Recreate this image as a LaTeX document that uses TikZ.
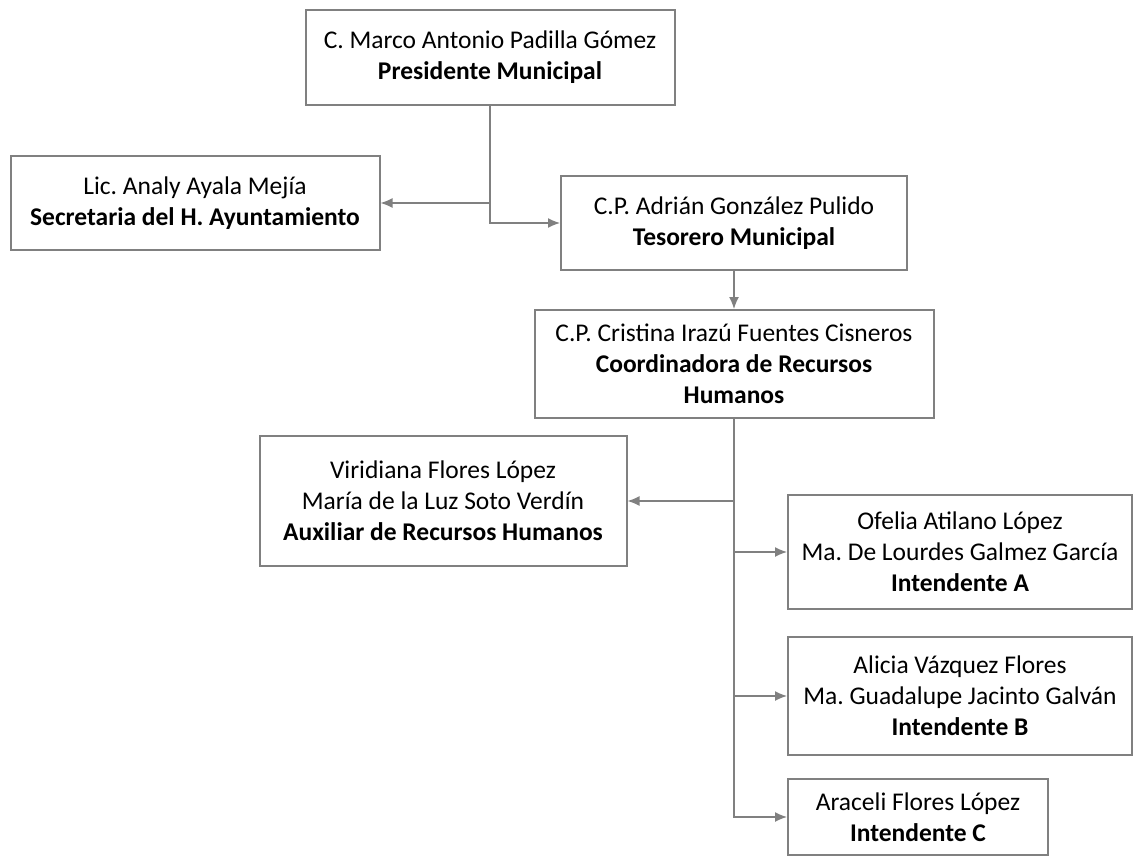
\documentclass[tikz,border=0pt]{standalone}
\usepackage{fontspec}
\setmainfont{Carlito}
\frenchspacing
\usetikzlibrary{arrows.meta}
\tikzset{
  cargo/.style={draw=black!50, line width=2pt, fill=white, align=center, inner sep=0pt,
    font=\fontsize{25.5}{31}\selectfont},
  enlace/.style={draw=black!50, line width=1.4pt, -{Latex[length=12pt,width=10pt]}},
}
\begin{document}
\begin{tikzpicture}[x=1pt,y=-1pt]
	\useasboundingbox (0,0) rectangle (1138,857);
	% puestos
	\node[cargo, minimum width=369pt, minimum height=95pt] (presidente) at (490,57) {C. Marco Antonio Padilla Gómez\\\textbf{Presidente Municipal}};
	\node[cargo, minimum width=369pt, minimum height=94pt] (secretaria) at (195,203) {Lic. Analy Ayala Mejía\\\textbf{Secretaria del H. Ayuntamiento}};
	\node[cargo, minimum width=346pt, minimum height=94pt] (tesorero) at (734,223) {C.P. Adrián González Pulido\\\textbf{Tesorero Municipal}};
	\node[cargo, minimum width=399pt, minimum height=108pt] (coordinadora) at (734,364) {C.P. Cristina Irazú Fuentes Cisneros\\\textbf{Coordinadora de Recursos}\\\textbf{Humanos}};
	\node[cargo, minimum width=367pt, minimum height=130pt] (auxiliar) at (443,501) {Viridiana Flores López\\María de la Luz Soto Verdín\\\textbf{Auxiliar de Recursos Humanos}};
	\node[cargo, minimum width=344pt, minimum height=114pt] (intA) at (960,552) {Ofelia Atilano López\\Ma. De Lourdes Galmez García\\\textbf{Intendente A}};
	\node[cargo, minimum width=344pt, minimum height=118pt] (intB) at (960,696) {Alicia Vázquez Flores\\Ma. Guadalupe Jacinto Galván\\\textbf{Intendente B}};
	\node[cargo, minimum width=260pt, minimum height=76pt] (intC) at (918,817) {Araceli Flores López\\\textbf{Intendente C}};
	% enlaces
	\draw[enlace] (presidente.south) |- (tesorero.west);
	\draw[enlace] (presidente.south |- secretaria.east) -- (secretaria.east);
	\draw[enlace] (tesorero.south) -- (coordinadora.north);
	\draw[enlace] (coordinadora.south) |- (intC.west);
	\draw[enlace] (coordinadora.south |- auxiliar.east) -- (auxiliar.east);
	\draw[enlace] (coordinadora.south |- intA.west) -- (intA.west);
	\draw[enlace] (coordinadora.south |- intB.west) -- (intB.west);
\end{tikzpicture}
\end{document}
